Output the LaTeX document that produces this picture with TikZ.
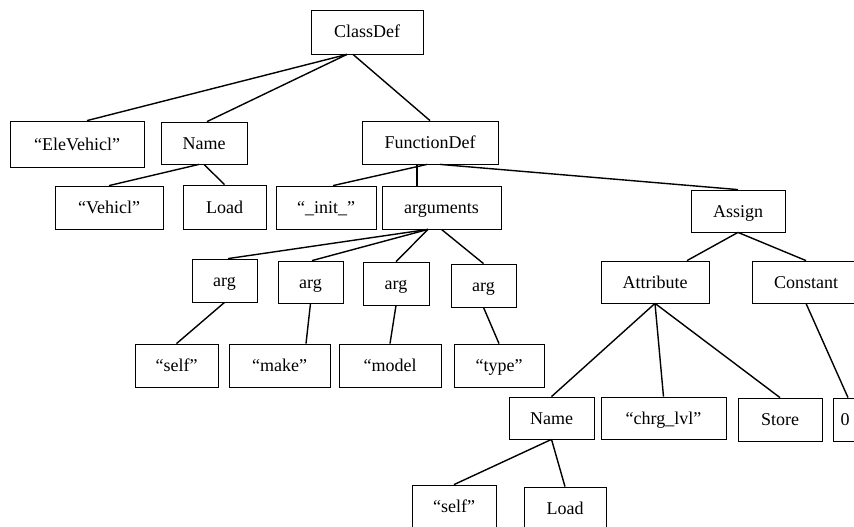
\documentclass[tikz,border=0pt]{standalone}
\usepackage{fontspec}
\setmainfont{Liberation Serif}
\usepackage{tikz}
\usetikzlibrary{positioning}

\tikzset{
    box/.style={draw, line width=0.8pt, inner sep=0pt, align=center,
        text height=12pt, text depth=0pt,
        font=\fontsize{18}{20}\selectfont},
    edge/.style={line width=1.4pt}
}

\begin{document}
\begin{tikzpicture}[x=1pt,y=-1pt]

% Frame
\useasboundingbox (0,0) rectangle (854,527);
\clip (0,0) rectangle (854,527);

% Root
\node[box, minimum width=112, minimum height=44] (classdef) at (367,32) {ClassDef};

% Level 1
\node[box, minimum width=134, minimum height=46] (elevehicl) at (77,144) {“EleVehicl”};
\node[box, minimum width=86, minimum height=42] (name) at (204,143) {Name};
\node[box, minimum width=136, minimum height=43] (funcdef) at (430,142.5) {FunctionDef};

% Level 2
\node[box, minimum width=108, minimum height=43] (vehicl) at (109,207.5) {“Vehicl”};
\node[box, minimum width=83, minimum height=44] (load) at (224.5,207) {Load};
\node[box, minimum width=100, minimum height=43] (init) at (326,207.5) {“\_init\_”};
\node[box, minimum width=119, minimum height=43] (arguments) at (441.5,207.5) {arguments};
\node[box, minimum width=94, minimum height=42] (assign) at (738,211) {Assign};

% Level 3
\node[box, minimum width=65, minimum height=43] (arga) at (224.5,280.5) {arg};
\node[box, minimum width=65, minimum height=42] (argb) at (310.5,282) {arg};
\node[box, minimum width=66, minimum height=43] (argc) at (396,283.5) {arg};
\node[box, minimum width=65, minimum height=43] (argd) at (483.5,285.5) {arg};
\node[box, minimum width=108, minimum height=42] (attribute) at (655,282) {Attribute};
\node[box, minimum width=108, minimum height=42] (constant) at (806,282) {Constant};

% Level 4
\node[box, minimum width=83, minimum height=43] (strself) at (176.5,365.5) {“self”};
\node[box, minimum width=101, minimum height=43] (strmake) at (279.5,365.5) {“make”};
\node[box, minimum width=102, minimum height=43] (strmodel) at (390,365.5) {“model};
\node[box, minimum width=90, minimum height=43] (strtype) at (499,365.5) {“type”};
\node[box, minimum width=85, minimum height=42] (nameb) at (551.5,418) {Name};
\node[box, minimum width=125, minimum height=42] (chrg) at (663.5,418) {“chrg\_lvl”};
\node[box, minimum width=84, minimum height=43] (store) at (780,419.5) {Store};
\node[box, minimum width=24, minimum height=43] (zero) at (845,419.5) {0};

% Level 5
\node[box, minimum width=84, minimum height=43] (selfb) at (454,506.5) {“self”};
\node[box, minimum width=82, minimum height=43] (loadb) at (565,508.5) {Load};

% Edges from ClassDef
\draw[edge] ([xshift=-20]classdef.south) -- ([xshift=10]elevehicl.north);
\draw[edge] ([xshift=-20]classdef.south) -- ([xshift=3]name.north);
\draw[edge] ([xshift=-14]classdef.south) -- (funcdef.north);

% Edges from Name
\draw[edge] ([xshift=-5]name.south) -- (vehicl.north);
\draw[edge] (name.south) -- (load.north);

% Edges from FunctionDef
\draw[edge] ([xshift=-3]funcdef.south) -- ([xshift=7]init.north);
\draw[edge] ([xshift=-13]funcdef.south) -- ([xshift=-24.5]arguments.north);
\draw[edge] ([xshift=10]funcdef.south) -- (assign.north);

% Edges from arguments
\draw[edge] ([xshift=-13.5]arguments.south) -- ([xshift=3.5]arga.north);
\draw[edge] ([xshift=-13.5]arguments.south) -- ([xshift=1.5]argb.north);
\draw[edge] ([xshift=-13.5]arguments.south) -- (argc.north);
\draw[edge] (arguments.south) -- (argd.north);

% Edges from arg
\draw[edge] (arga.south) -- (strself.north);
\draw[edge] (argb.south) -- ([xshift=26.5]strmake.north);
\draw[edge] (argc.south) -- (strmodel.north);
\draw[edge] (argd.south) -- (strtype.north);

% Edges from Assign
\draw[edge] (assign.south) -- ([xshift=32]attribute.north);
\draw[edge] (assign.south) -- (constant.north);

% Edges from Attribute
\draw[edge] (attribute.south) -- (nameb.north);
\draw[edge] (attribute.south) -- (chrg.north);
\draw[edge] (attribute.south) -- (store.north);

% Edge from Constant
\draw[edge] (constant.south) -- ([xshift=3]zero.north);

% Edges from Name
\draw[edge] (nameb.south) -- (selfb.north);
\draw[edge] (nameb.south) -- (loadb.north);

\end{tikzpicture}
\end{document}
